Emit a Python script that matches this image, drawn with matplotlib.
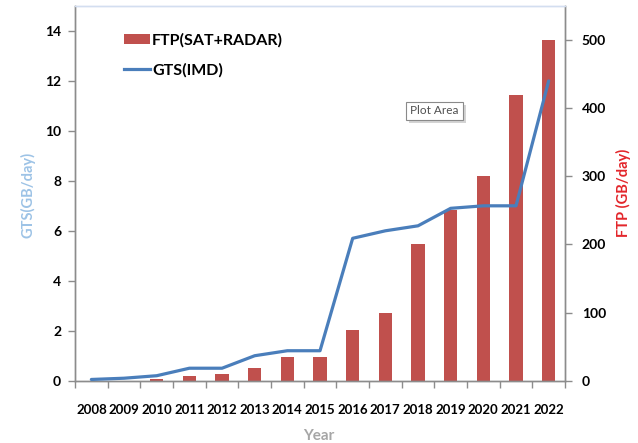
import numpy as np
import matplotlib
matplotlib.use('Agg')
import matplotlib.pyplot as plt
from matplotlib.patches import Patch, Rectangle
from matplotlib.lines import Line2D

# data
years = ['2008', '2009', '2010', '2011', '2012', '2013', '2014', '2015',
         '2016', '2017', '2018', '2019', '2020', '2021', '2022']
ftp = [0, 0, 2, 7, 10, 18, 35, 35, 75, 100, 200, 250, 300, 420, 500]
gts = [0.05, 0.1, 0.2, 0.5, 0.5, 1.0, 1.2, 1.2, 5.7, 6.0, 6.2, 6.9, 7.0, 7.0, 12.0]
gts_ticks = [0, 2, 4, 6, 8, 10, 12, 14]
ftp_ticks = [0, 100, 200, 300, 400, 500]

plt.rcParams['font.family'] = ['Lato', 'DejaVu Sans']

bar_col = '#C0504D'
line_col = '#4A7EBB'
axis_col = '#8C8C8C'

fig = plt.figure(figsize=(6.38, 4.43), dpi=100)
ax = fig.add_axes([0.1176, 0.1406, 0.768, 0.846])
ax2 = ax.twinx()

x = np.arange(len(years))
ax2.bar(x, ftp, width=0.4, color=bar_col, zorder=2)
ax.plot(x, gts, color=line_col, lw=2.3, zorder=3, solid_capstyle='round')

# line above the bars
ax.set_zorder(ax2.get_zorder() + 1)
ax.patch.set_visible(False)

ax.set_xlim(-0.5, len(years) - 0.5)
ax.set_ylim(0, 15)
ax2.set_ylim(0, 550)
ax.set_yticks(gts_ticks)
ax2.set_yticks(ftp_ticks)

ax.set_xticks(x)
ax.set_xticklabels(years, fontsize=9.5, fontweight='bold')
ax.set_xticks(np.arange(len(years) + 1) - 0.5, minor=True)
ax.tick_params(axis='x', which='major', length=0, pad=17)
ax.tick_params(axis='x', which='minor', length=5, color=axis_col, width=1)
ax.tick_params(axis='y', length=5, color=axis_col, width=1, pad=5)
ax2.tick_params(axis='y', length=5, color=axis_col, width=1, pad=7)
for lab in ax.get_yticklabels() + ax2.get_yticklabels():
    lab.set_fontsize(10)
    lab.set_fontweight('bold')

for a in (ax, ax2):
    for s in ('left', 'right', 'bottom'):
        a.spines[s].set_color(axis_col)
        a.spines[s].set_linewidth(1)
    a.spines['top'].set_color('#D3DEF0')
    a.spines['top'].set_linewidth(1)

# legend
handles = [Patch(facecolor=bar_col, edgecolor='none'),
           Line2D([0], [0], color=line_col, lw=2.3)]
leg = fig.legend(handles, ['FTP(SAT+RADAR)', 'GTS(IMD)'],
                 loc='upper left', bbox_to_anchor=(0.172, 0.958),
                 frameon=False, prop={'weight': 'bold', 'size': 11.5},
                 handlelength=1.6, handleheight=0.65, handletextpad=0.15,
                 labelspacing=0.95)

# axis titles
fig.text(28 / 638, 1 - 195 / 443, 'GTS(GB/day)', rotation=90, ha='center',
         va='center', color='#9DC3E6', fontsize=10.5, fontweight='bold')
fig.text(623 / 638, 1 - 193 / 443, 'FTP (GB/day)', rotation=90, ha='center',
         va='center', color='#E3262B', fontsize=10.5, fontweight='bold')
fig.text(319 / 638, 1 - 436 / 443, 'Year', ha='center', va='center',
         color='#A6A6A6', fontsize=11, fontweight='bold')

# the "Plot Area" tooltip box with a soft shadow
fig.add_artist(Rectangle((409 / 638, 1 - 123 / 443), 57 / 638, 18 / 443,
                         transform=fig.transFigure, fc='#D4D4D4', ec='none'))
fig.add_artist(Rectangle((406 / 638, 1 - 120 / 443), 57 / 638, 18 / 443,
                         transform=fig.transFigure, fc='white', ec='#8A8A8A',
                         lw=0.8))
fig.text(434.5 / 638, 1 - 111 / 443, 'Plot Area', ha='center', va='center',
         fontsize=8.5, color='#505050')

fig.savefig('out.png', dpi=100)
